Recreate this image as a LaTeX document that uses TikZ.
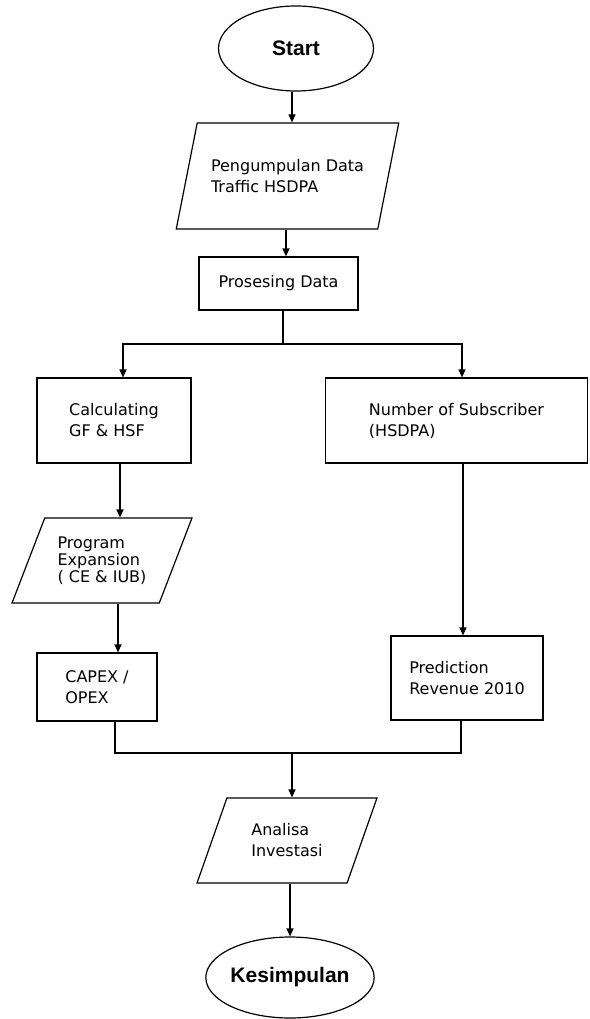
\documentclass[tikz,border=0pt]{standalone}
\usepackage{fontspec}
\setmainfont{DejaVu Sans}
\newfontfamily\termfont{Liberation Sans}
\usetikzlibrary{shapes.geometric,arrows.meta}

\begin{document}
\begin{tikzpicture}[x=1pt,y=-1pt,font=\fontsize{16}{21}\selectfont,
  box/.style={rectangle,draw,line width=1.2pt,align=left,inner sep=0pt},
  io/.style={trapezium,trapezium left angle=62,trapezium right angle=118,
    trapezium stretches=true,draw,line width=1.2pt,align=left,inner sep=0pt},
  term/.style={ellipse,draw,line width=1.2pt,inner sep=0pt,
    font=\termfont\bfseries\fontsize{21}{25}\selectfont},
  ar/.style={-{Triangle[length=8pt,width=7pt]},line width=1.2pt},
  ln/.style={line width=1.2pt}]
\useasboundingbox (0,0) rectangle (589,1019);
% main column
\node[term,minimum width=155pt,minimum height=85pt] (start) at (296,48.5) {Start};
\node[io,minimum width=223pt,minimum height=106pt] (data) at (287.5,176) {Pengumpulan Data\\Traffic HSDPA};
\node[box,minimum width=159pt,minimum height=53pt] (proc) at (278.5,283.5) {Prosesing Data};
% left branch
\node[box,minimum width=154pt,minimum height=85pt] (calc) at (114,420.5) {Calculating\\GF \& HSF};
\node[io,minimum width=180pt,minimum height=85pt,font=\fontsize{16}{17}\selectfont] (expan) at (102,560.5) {Program\\Expansion\\( CE \& IUB)};
\node[box,minimum width=120pt,minimum height=68pt] (capex) at (97,687) {CAPEX /\\OPEX};
% right branch
\node[box,minimum width=262pt,minimum height=85pt] (subs) at (456.5,420.5) {Number of Subscriber\\(HSDPA)};
\node[box,minimum width=152pt,minimum height=84pt] (pred) at (467,678) {Prediction\\Revenue 2010};
% end
\node[io,minimum width=180pt,minimum height=85pt] (anal) at (287,840.5) {Analisa\\Investasi};
\node[term,minimum width=154pt,minimum height=81pt] (finish) at (290,977.5) {Kesimpulan};

\coordinate (split) at (283,344);
\coordinate (merge) at (292,753);
\draw[ar] ([xshift=-4pt]start.south) -- ([xshift=-4pt]start.south |- data.north);
\draw[ar] ([xshift=7.5pt]proc.north |- data.south) -- ([xshift=7.5pt]proc.north);
\draw[ln] ([xshift=4.5pt]proc.south) -- ([xshift=4.5pt]proc.south |- split);
\draw[ar] ([xshift=4.5pt]proc.south |- split) -| ([xshift=9pt]calc.north);
\draw[ar] ([xshift=4.5pt]proc.south |- split) -| ([xshift=5.5pt]subs.north);
\draw[ar] ([xshift=6pt]calc.south) -- ([xshift=6pt]calc.south |- expan.north);
\draw[ar] ([xshift=21pt]capex.north |- expan.south) -- ([xshift=21pt]capex.north);
\draw[ar] ([xshift=-4pt]pred.north |- subs.south) -- ([xshift=-4pt]pred.north);
\draw[ln] ([xshift=18pt]capex.south) |- (merge) -| ([xshift=-6pt]pred.south);
\draw[ar] (merge) -- (merge |- anal.north);
\draw[ar] (finish.north |- anal.south) -- (finish.north);
\end{tikzpicture}
\end{document}
